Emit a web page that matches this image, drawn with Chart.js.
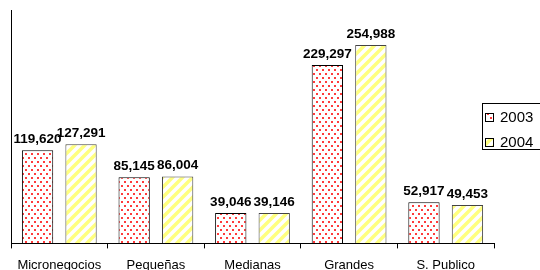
<!DOCTYPE html>
<html>
<head>
<meta charset="utf-8">
<script src="https://cdn.jsdelivr.net/npm/chart.js@4/dist/chart.umd.min.js"></script>
<style>
  html, body { margin: 0; padding: 0; background: #fff; overflow: hidden; }
  #wrap { width: 540px; height: 282px; position: relative; }
</style>
</head>
<body>
<div id="wrap"><canvas id="chart"></canvas></div>
<script>
var categories = ["Micronegocios", "Pequeñas", "Medianas", "Grandes", "S. Publico"];
var seriesNames = ["2003", "2004"];
var values2003 = [119620, 85145, 39046, 229297, 52917];
var values2004 = [127291, 86004, 39146, 254988, 49453];

// pattern fills
function dotPattern() {
    var c = document.createElement("canvas");
    c.width = 6; c.height = 8;
    var g = c.getContext("2d");
    g.fillStyle = "#fff";
    g.fillRect(0, 0, 6, 8);
    g.fillStyle = "#ff3b3b";
    g.fillRect(1, 1, 2, 2);
    g.fillRect(4, 5, 2, 2);
    return g.createPattern(c, "repeat");
}
function stripePattern() {
    var c = document.createElement("canvas");
    c.width = 10; c.height = 10;
    var g = c.getContext("2d");
    g.fillStyle = "#fff";
    g.fillRect(0, 0, 10, 10);
    g.strokeStyle = "#ffff80";
    g.lineWidth = 3.5;
    g.beginPath();
    g.moveTo(-2, 12); g.lineTo(12, -2);
    g.moveTo(-7, 7); g.lineTo(7, -7);
    g.moveTo(3, 17); g.lineTo(17, 3);
    g.stroke();
    return g.createPattern(c, "repeat");
}

var fills = [dotPattern(), stripePattern()];
var borders = ["#000", "#444"];

function fmt(v) {
    return v.toString().replace(/\B(?=(\d{3})+(?!\d))/g, ",");
}

var valueLabels = {
    id: "valueLabels",
    afterDatasetsDraw: function(chart) {
        var ctx = chart.ctx;
        ctx.save();
        ctx.font = "bold 13.5px 'Liberation Sans', Arial, sans-serif";
        ctx.fillStyle = "#000";
        ctx.textAlign = "center";
        ctx.textBaseline = "alphabetic";
        chart.data.datasets.forEach(function(ds, i) {
            chart.getDatasetMeta(i).data.forEach(function(bar, j) {
                ctx.fillText(fmt(ds.data[j]), bar.x, bar.y - 7);
            });
        });
        ctx.restore();
    }
};

var boxLegend = {
    id: "boxLegend",
    afterDraw: function(chart) {
        var ctx = chart.ctx;
        var left = 482, top = 103, w = 70, h = 46;
        ctx.save();
        ctx.fillStyle = "#fff";
        ctx.fillRect(left, top, w, h);
        ctx.strokeStyle = "#000";
        ctx.lineWidth = 1;
        ctx.strokeRect(left + 0.5, top + 0.5, w, h);
        ctx.font = "15px 'Liberation Sans', Arial, sans-serif";
        ctx.textBaseline = "middle";
        ctx.textAlign = "left";
        chart.data.datasets.forEach(function(ds, i) {
            var cy = 117 + i * 25;
            ctx.fillStyle = fills[i];
            ctx.fillRect(486, cy - 3, 7, 7);
            ctx.strokeStyle = "#000";
            ctx.strokeRect(485.5, cy - 3.5, 8, 8);
            ctx.fillStyle = "#000";
            ctx.fillText(ds.label, 500, cy + 1);
        });
        ctx.restore();
    }
};

var ctx = document.getElementById("chart").getContext("2d");
var chart = new Chart(ctx, {
    type: "bar",
    data: {
        labels: categories,
        datasets: [
            {
                label: seriesNames[0],
                data: values2003,
                backgroundColor: fills[0],
                borderColor: borders[0],
                borderWidth: 1
            },
            {
                label: seriesNames[1],
                data: values2004,
                backgroundColor: fills[1],
                borderColor: borders[1],
                borderWidth: 1
            }
        ]
    },
    options: {
        responsive: true,
        maintainAspectRatio: false,
        animation: false,
        categoryPercentage: 0.9,
        barPercentage: 0.72,
        layout: {
            padding: { left: 11, right: 46, top: 10, bottom: 0 }
        },
        plugins: {
            legend: { display: false },
            tooltip: { enabled: false }
        },
        scales: {
            x: {
                grid: {
                    drawOnChartArea: false,
                    drawTicks: true,
                    tickLength: 5,
                    color: "#000"
                },
                border: { color: "#000" },
                ticks: {
                    color: "#000",
                    padding: 9,
                    maxRotation: 0,
                    font: { family: "'Liberation Sans', Arial, sans-serif", size: 13 }
                }
            },
            y: {
                min: 0,
                max: 300000,
                grid: { drawOnChartArea: false, drawTicks: false },
                border: { color: "#000" },
                ticks: { display: false }
            }
        }
    },
    plugins: [valueLabels, boxLegend]
});
</script>
</body>
</html>
